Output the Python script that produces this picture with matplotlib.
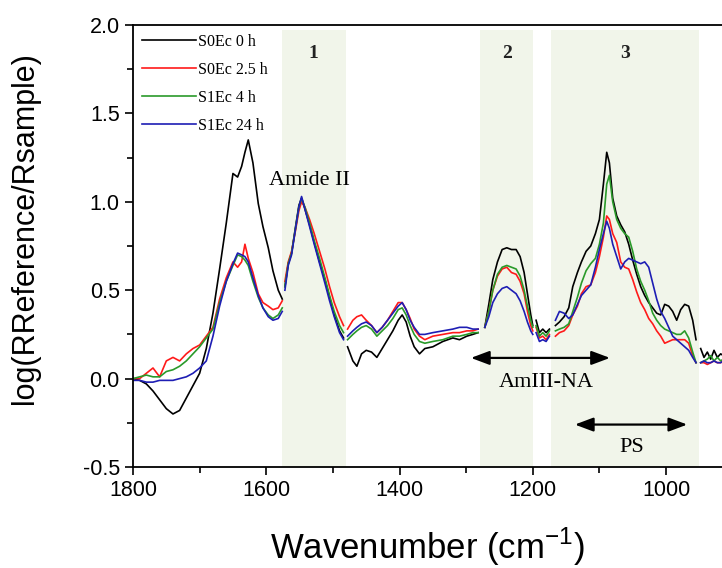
import numpy as np
import matplotlib
matplotlib.use("Agg")
import matplotlib.pyplot as plt
from matplotlib.ticker import MultipleLocator

plt.rcParams['font.family'] = 'Liberation Sans'
plt.rcParams['mathtext.fontset'] = 'custom'
plt.rcParams['mathtext.rm'] = 'Liberation Sans'

# wavenumber grid of each spectral segment (cm-1), curves are broken between them
wn_segments = [
    [1800, 1790, 1780, 1770, 1760, 1750, 1740, 1730, 1720, 1710, 1700, 1690, 1680, 1670,
     1660, 1650, 1643, 1637, 1632, 1627, 1620, 1612, 1605, 1597, 1590, 1582, 1576],
    [1572, 1567, 1562, 1556, 1551, 1547, 1542, 1535, 1528, 1520, 1512, 1505, 1498, 1490, 1484],
    [1478, 1470, 1464, 1457, 1450, 1442, 1434, 1426, 1418, 1410, 1402, 1396, 1390, 1384,
     1378, 1370, 1362, 1350, 1335, 1320, 1310, 1299, 1290, 1282],
    [1272, 1266, 1260, 1253, 1246, 1239, 1232, 1225, 1219, 1213, 1208, 1203, 1200],
    [1195, 1190, 1185, 1180, 1175],
    [1166, 1160, 1153, 1146, 1140, 1133, 1127, 1120, 1113, 1106, 1100, 1094, 1089, 1085,
     1080, 1074, 1068, 1062, 1056, 1050, 1044, 1038, 1032, 1026, 1020, 1014, 1008, 1002,
     996, 990, 984, 978, 972, 966, 960, 955],
    [948, 943, 938, 933, 928, 923, 918, 914],
]

s0ec_0h = [
    [0.00, -0.01, -0.03, -0.07, -0.12, -0.17, -0.20, -0.18, -0.11, -0.04, 0.03, 0.17, 0.37, 0.62,
     0.88, 1.16, 1.14, 1.20, 1.28, 1.35, 1.22, 0.99, 0.86, 0.74, 0.61, 0.50, 0.45],
    [0.52, 0.65, 0.71, 0.86, 0.98, 1.02, 0.96, 0.87, 0.77, 0.66, 0.56, 0.46, 0.36, 0.27, 0.23],
    [0.18, 0.10, 0.07, 0.14, 0.16, 0.15, 0.12, 0.17, 0.22, 0.27, 0.33, 0.36, 0.32, 0.24,
     0.18, 0.14, 0.17, 0.18, 0.21, 0.23, 0.22, 0.24, 0.25, 0.26],
    [0.29, 0.42, 0.56, 0.66, 0.73, 0.74, 0.73, 0.73, 0.69, 0.60, 0.48, 0.36, 0.30],
    [0.33, 0.26, 0.28, 0.26, 0.28],
    [0.30, 0.32, 0.35, 0.40, 0.52, 0.60, 0.66, 0.72, 0.75, 0.82, 0.90, 1.10, 1.28, 1.22,
     1.02, 0.92, 0.87, 0.83, 0.76, 0.67, 0.59, 0.52, 0.47, 0.43, 0.40, 0.37, 0.36, 0.42,
     0.41, 0.38, 0.33, 0.39, 0.42, 0.41, 0.33, 0.22],
    [0.17, 0.12, 0.15, 0.11, 0.16, 0.12, 0.14, 0.13],
]

s0ec_2_5h = [
    [0.00, 0.00, 0.03, 0.06, 0.01, 0.10, 0.12, 0.10, 0.14, 0.17, 0.19, 0.24, 0.29, 0.45,
     0.57, 0.66, 0.63, 0.66, 0.76, 0.68, 0.60, 0.48, 0.43, 0.41, 0.39, 0.40, 0.44],
    [0.55, 0.66, 0.72, 0.84, 0.95, 1.00, 0.97, 0.90, 0.82, 0.72, 0.62, 0.52, 0.43, 0.35, 0.30],
    [0.28, 0.33, 0.35, 0.36, 0.33, 0.30, 0.26, 0.29, 0.33, 0.38, 0.43, 0.43, 0.39, 0.34,
     0.28, 0.24, 0.22, 0.24, 0.25, 0.26, 0.26, 0.27, 0.27, 0.28],
    [0.29, 0.38, 0.50, 0.58, 0.62, 0.63, 0.60, 0.59, 0.55, 0.48, 0.38, 0.30, 0.27],
    [0.29, 0.23, 0.24, 0.22, 0.25],
    [0.24, 0.26, 0.27, 0.30, 0.36, 0.41, 0.48, 0.52, 0.53, 0.60, 0.69, 0.80, 0.92, 0.90,
     0.82, 0.77, 0.66, 0.63, 0.62, 0.56, 0.49, 0.43, 0.39, 0.34, 0.31, 0.27, 0.24, 0.20,
     0.21, 0.22, 0.22, 0.22, 0.22, 0.20, 0.13, 0.09],
    [0.09, 0.09, 0.08, 0.09, 0.10, 0.09, 0.09, 0.10],
]

s1ec_4h = [
    [0.00, 0.01, 0.02, 0.01, 0.01, 0.04, 0.05, 0.07, 0.10, 0.14, 0.18, 0.23, 0.28, 0.43,
     0.55, 0.64, 0.70, 0.69, 0.67, 0.64, 0.55, 0.46, 0.40, 0.36, 0.34, 0.36, 0.40],
    [0.52, 0.65, 0.71, 0.85, 0.97, 1.02, 0.97, 0.88, 0.78, 0.68, 0.57, 0.47, 0.38, 0.30, 0.26],
    [0.22, 0.25, 0.27, 0.29, 0.30, 0.28, 0.24, 0.27, 0.30, 0.34, 0.39, 0.40, 0.36, 0.30,
     0.25, 0.21, 0.20, 0.21, 0.22, 0.24, 0.24, 0.25, 0.26, 0.26],
    [0.29, 0.38, 0.50, 0.59, 0.63, 0.64, 0.63, 0.62, 0.58, 0.50, 0.41, 0.33, 0.29],
    [0.30, 0.24, 0.26, 0.24, 0.27],
    [0.27, 0.28, 0.29, 0.31, 0.38, 0.46, 0.54, 0.61, 0.65, 0.68, 0.76, 0.88, 1.10, 1.15,
     1.00, 0.90, 0.85, 0.82, 0.80, 0.72, 0.62, 0.55, 0.50, 0.44, 0.37, 0.33, 0.30, 0.28,
     0.27, 0.26, 0.25, 0.25, 0.27, 0.23, 0.15, 0.09],
    [0.09, 0.10, 0.11, 0.13, 0.10, 0.12, 0.10, 0.11],
]

s1ec_24h = [
    [-0.01, -0.01, -0.02, -0.02, -0.01, -0.01, -0.01, 0.00, 0.01, 0.03, 0.06, 0.10, 0.24, 0.41,
     0.55, 0.65, 0.71, 0.70, 0.69, 0.66, 0.57, 0.47, 0.40, 0.35, 0.33, 0.34, 0.38],
    [0.50, 0.64, 0.70, 0.85, 0.97, 1.03, 0.96, 0.86, 0.76, 0.65, 0.54, 0.44, 0.35, 0.26, 0.22],
    [0.24, 0.27, 0.29, 0.31, 0.32, 0.30, 0.26, 0.29, 0.33, 0.37, 0.41, 0.43, 0.39, 0.33,
     0.29, 0.25, 0.25, 0.26, 0.27, 0.28, 0.29, 0.29, 0.28, 0.28],
    [0.29, 0.35, 0.43, 0.48, 0.51, 0.52, 0.50, 0.48, 0.44, 0.38, 0.32, 0.27, 0.25],
    [0.26, 0.21, 0.22, 0.21, 0.24],
    [0.33, 0.38, 0.37, 0.34, 0.36, 0.42, 0.47, 0.50, 0.53, 0.63, 0.73, 0.82, 0.89, 0.85,
     0.76, 0.69, 0.62, 0.66, 0.68, 0.67, 0.66, 0.65, 0.66, 0.63, 0.54, 0.45, 0.38, 0.34,
     0.29, 0.24, 0.22, 0.20, 0.18, 0.16, 0.12, 0.09],
    [0.09, 0.10, 0.09, 0.09, 0.10, 0.09, 0.09, 0.10],
]

series_labels = ['S0Ec 0 h', 'S0Ec 2.5 h', 'S1Ec 4 h', 'S1Ec 24 h']
series_colors = ['black', '#ff1a1a', '#2a9a2a', '#1e1eb4']

# shaded analysis windows (high, low wavenumber) and their numbers
bands = [(1577, 1481), (1279, 1199), (1172, 950)]
band_names = ['1', '2', '3']


def join(segments):
    # put NaN between segments so the lines break at the window edges
    out = []
    for seg in segments:
        out.extend(seg)
        out.append(np.nan)
    return np.array(out[:-1], dtype=float)


x = join(wn_segments)

fig = plt.figure(figsize=(7.22, 5.68), dpi=100)
ax = fig.add_axes([133 / 722, 101 / 568, 589 / 722, 442 / 568])

for (hi, lo), name in zip(bands, band_names):
    ax.axvspan(lo, hi, ymin=0.0, ymax=0.988, color='#f1f5ea', lw=0, zorder=0)
    ax.text((hi + lo) / 2, 1.84, name, ha='center', va='center', fontsize=14,
            fontweight='bold', family='Liberation Serif', color='#222222')

for ys, lab, col in zip([s0ec_0h, s0ec_2_5h, s1ec_4h, s1ec_24h], series_labels, series_colors):
    ax.plot(x, join(ys), color=col, lw=1.2, label=lab)

ax.text(1535, 1.12, 'Amide II', ha='center', va='center', fontsize=16, family='Liberation Serif')
ax.annotate('', xy=(1080, 0.117), xytext=(1297, 0.117),
            arrowprops=dict(arrowstyle='<|-|>,head_length=0.8,head_width=0.3',
                            mutation_scale=14, color='black', lw=1.6))
ax.text(1180, -0.02, 'AmIII-NA', ha='center', va='center', fontsize=16, family='Liberation Serif')
ax.annotate('', xy=(964, -0.26), xytext=(1141, -0.26),
            arrowprops=dict(arrowstyle='<|-|>,head_length=0.8,head_width=0.3',
                            mutation_scale=14, color='black', lw=1.6))
ax.text(1052, -0.39, 'PS', ha='center', va='center', fontsize=16, family='Liberation Serif')

ax.set_xlim(1800, 916)
ax.set_ylim(-0.5, 2.0)
ax.xaxis.set_major_locator(MultipleLocator(200))
ax.xaxis.set_minor_locator(MultipleLocator(100))
ax.yaxis.set_major_locator(MultipleLocator(0.5))
ax.yaxis.set_minor_locator(MultipleLocator(0.25))
ax.yaxis.set_major_formatter(plt.FormatStrFormatter('%.1f'))
ax.tick_params(which='major', direction='out', length=6, width=1.2, labelsize=15.5)
ax.tick_params(which='minor', direction='out', length=4, width=1.2)
ax.spines['right'].set_visible(False)
for s in ['left', 'bottom', 'top']:
    ax.spines[s].set_linewidth(1.3)

ax.set_xlabel('Wavenumber (cm$^{\\mathregular{-1}}$)', fontsize=25, labelpad=18)
ax.set_ylabel('log(RReference/Rsample)', fontsize=22)
ax.yaxis.set_label_coords(-0.158, 0.54)

leg = ax.legend(loc='upper left', bbox_to_anchor=(0.0, 1.0), frameon=False,
                prop={'family': 'Liberation Serif', 'size': 11.5},
                handlelength=3.4, handletextpad=0.15, labelspacing=0.75,
                borderpad=0.45, borderaxespad=0.1)

fig.savefig('out.png', dpi=100)
